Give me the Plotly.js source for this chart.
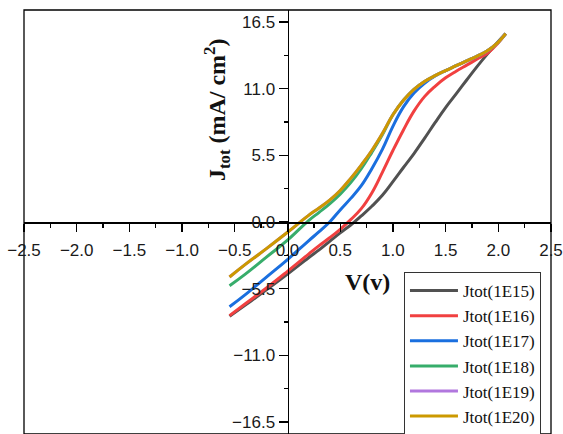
<!DOCTYPE html>
<html>
<head>
<meta charset="utf-8">
<script src="https://cdn.plot.ly/plotly-3.0.1.min.js"></script>
<style>html,body{margin:0;padding:0;background:#fff;}#chart{width:563px;height:434px;}</style>
</head>
<body>
<div id="chart"></div>
<script>
// Voltage (V)
const V = [-0.55, -0.4, -0.2, 0, 0.2, 0.3, 0.4, 0.5, 0.6, 0.7, 0.8, 0.9, 1.0, 1.1, 1.2, 1.3, 1.4, 1.5, 1.6, 1.7, 1.8, 1.9, 2.0, 2.07];
// Current density (mA/cm2) per doping
const J_1E15 = [-7.78, -6.85, -5.6, -4.3, -2.95, -2.3, -1.6, -0.9, -0.25, 0.5, 1.3, 2.2, 3.33, 4.5, 5.65, 6.9, 8.2, 9.45, 10.58, 11.72, 12.85, 13.9, 14.9, 15.55];
const J_1E16 = [-7.73, -6.75, -5.45, -4.07, -2.65, -1.95, -1.3, -0.6, 0.2, 1.1, 2.4, 4.1, 5.9, 7.6, 9.15, 10.35, 11.2, 11.9, 12.45, 12.95, 13.45, 13.95, 14.8, 15.55];
const J_1E17 = [-7.0, -6.0, -4.55, -3.1, -1.55, -0.8, 0.0, 1.0, 1.95, 3.0, 4.4, 6.0, 7.9, 9.5, 10.65, 11.45, 12.05, 12.5, 12.9, 13.3, 13.7, 14.15, 14.85, 15.55];
const J_1E18 = [-5.26, -4.3, -2.9, -1.5, 0.12, 0.8, 1.5, 2.3, 3.25, 4.4, 5.75, 7.2, 8.85, 10.05, 10.95, 11.6, 12.08, 12.5, 12.9, 13.3, 13.7, 14.15, 14.85, 15.55];
const J_1E19 = [-4.54, -3.5, -2.2, -0.85, 0.55, 1.15, 1.8, 2.6, 3.6, 4.7, 5.9, 7.3, 8.85, 10.05, 10.95, 11.6, 12.08, 12.5, 12.9, 13.3, 13.7, 14.15, 14.85, 15.55];
const J_1E20 = [-4.54, -3.5, -2.2, -0.85, 0.55, 1.15, 1.8, 2.6, 3.6, 4.7, 5.9, 7.3, 8.85, 10.05, 10.95, 11.6, 12.08, 12.5, 12.9, 13.3, 13.7, 14.15, 14.85, 15.55];
const seriesNames = ['Jtot(1E15)', 'Jtot(1E16)', 'Jtot(1E17)', 'Jtot(1E18)', 'Jtot(1E19)', 'Jtot(1E20)'];
const seriesValues = [J_1E15, J_1E16, J_1E17, J_1E18, J_1E19, J_1E20];
const colors = ['#515151', '#F14040', '#1A6FDF', '#37AD6B', '#B177DE', '#CC9900'];

const traces = seriesNames.map((n, i) => ({
  x: V, y: seriesValues[i], name: n, type: 'scatter', mode: 'lines',
  line: {color: colors[i], width: 3, shape: 'spline', smoothing: 1.2}
}));

const tickFont = {family: 'Liberation Sans, Arial, sans-serif', size: 17, color: '#1a1a1a'};
const layout = {
  width: 563, height: 434,
  margin: {l: 24, r: 12, t: 10, b: 0, pad: 0, autoexpand: false},
  paper_bgcolor: '#fff', plot_bgcolor: '#fff',
  showlegend: true,
  xaxis: {
    range: [-2.5, 2.5], anchor: 'free', position: 0.5, automargin: false,
    tick0: 0, dtick: 0.5, tickformat: '.1f',
    ticks: 'outside', ticklen: 8, tickwidth: 1.3, tickcolor: '#000',
    minor: {dtick: 0.25, ticks: 'outside', ticklen: 4, tickwidth: 1.3, tickcolor: '#000'},
    showline: true, linecolor: '#000', linewidth: 1.5,
    showgrid: false, zeroline: false, tickfont: tickFont, ticklabelstandoff: 4
  },
  yaxis: {
    range: [-17.5, 17.5], anchor: 'free', position: 0.5, automargin: false,
    tick0: 0, dtick: 5.5, tickformat: '.1f',
    ticks: 'outside', ticklen: 9, tickwidth: 1.3, tickcolor: '#000',
    minor: {dtick: 2.75, ticks: 'outside', ticklen: 4, tickwidth: 1.3, tickcolor: '#000'},
    showline: true, linecolor: '#000', linewidth: 1.5,
    showgrid: false, zeroline: false, tickfont: tickFont
  },
  shapes: [{type: 'rect', xref: 'paper', yref: 'paper', x0: 0, x1: 1, y0: 0, y1: 1,
    line: {color: '#000', width: 1.3}, layer: 'below'}],
  annotations: [
    {xref: 'paper', yref: 'paper', x: 0.366, y: 0.766, xanchor: 'center', yanchor: 'middle',
     textangle: -90, showarrow: false,
     text: '<b>J<sub>tot</sub> (mA/ cm<sup>2</sup>)</b>',
     font: {family: 'Liberation Serif, Times New Roman, serif', size: 24, color: '#111'}},
    {xref: 'paper', yref: 'paper', x: 0.652, y: 0.359, xanchor: 'center', yanchor: 'middle',
     showarrow: false, text: '<b>V(v)</b>',
     font: {family: 'Liberation Serif, Times New Roman, serif', size: 24, color: '#111'}}
  ],
  legend: {
    x: 0.721, y: 0.382, xanchor: 'left', yanchor: 'top',
    bgcolor: '#fff', bordercolor: '#333', borderwidth: 1,
    font: {family: 'Liberation Serif, Times New Roman, serif', size: 17, color: '#111'},
    itemwidth: 48, tracegroupgap: 0
  }
};
Plotly.newPlot('chart', traces, layout, {displayModeBar: false, staticPlot: true});
</script>
</body>
</html>
